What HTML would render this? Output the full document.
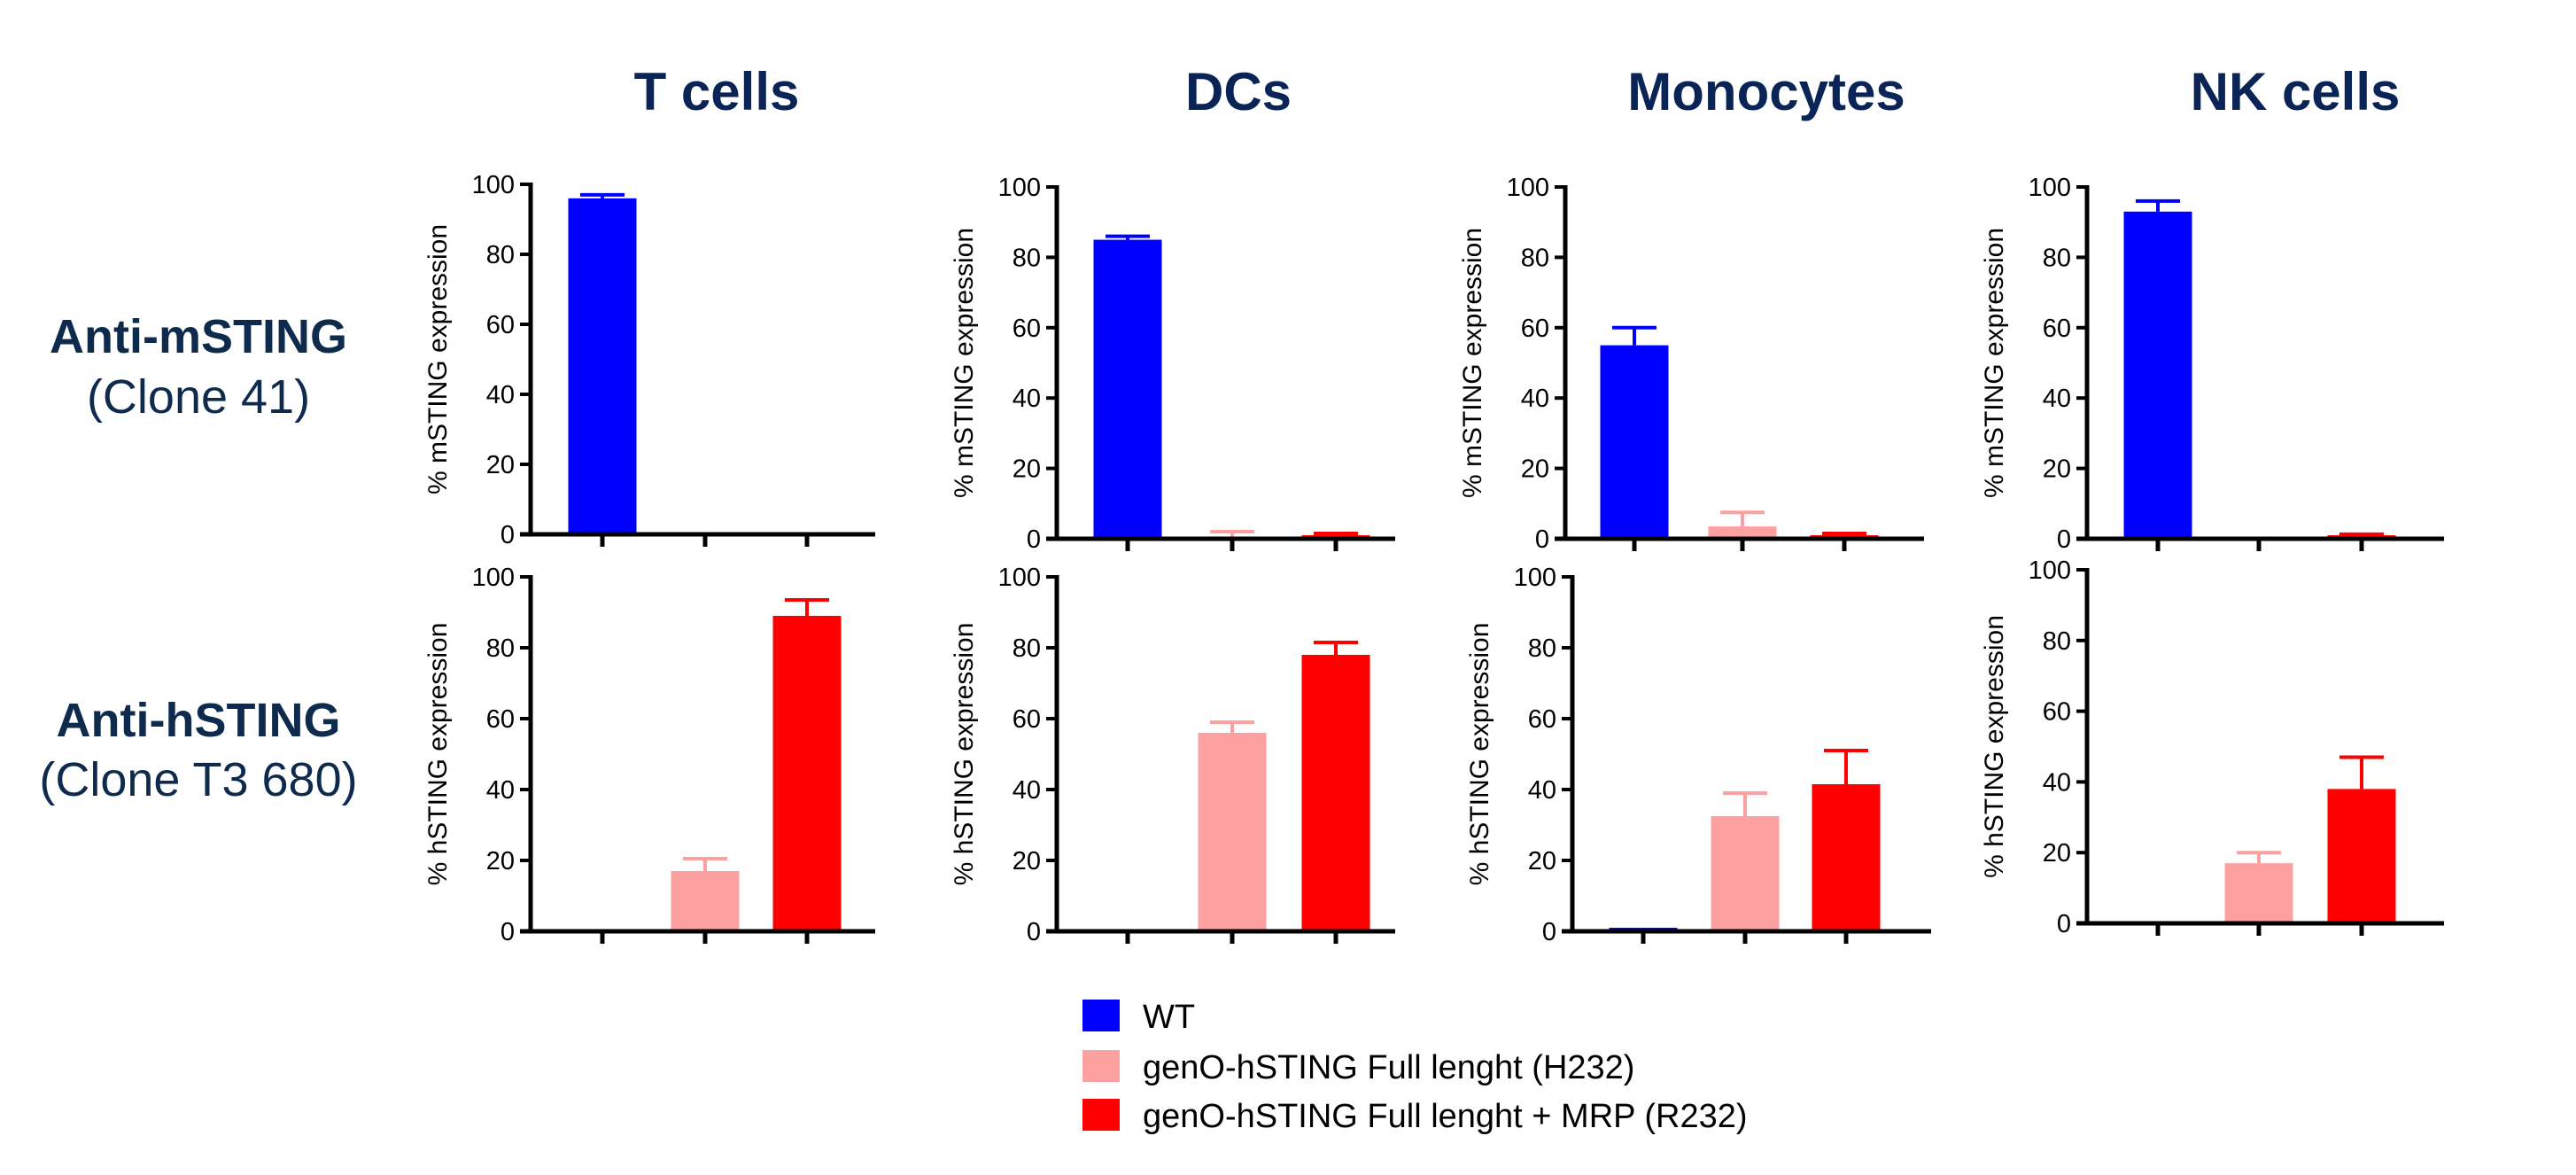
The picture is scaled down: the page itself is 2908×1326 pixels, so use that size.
<!DOCTYPE html>
<html><head><meta charset="utf-8"><style>
html,body{margin:0;padding:0;background:#fff;}
svg{display:block;font-family:"Liberation Sans",Arial,sans-serif;}
</style></head><body>
<svg id="fig" width="2908" height="1326" viewBox="0 0 2908 1326" xmlns="http://www.w3.org/2000/svg">
<g font-weight="bold" font-size="60" fill="#0b2456" text-anchor="middle">
<text x="809" y="124">T cells</text>
<text x="1398" y="124">DCs</text>
<text x="1994" y="124">Monocytes</text>
<text x="2591" y="124">NK cells</text>
</g>
<g fill="#0e2a4c" text-anchor="middle" font-size="54">
<text x="224" y="398" font-weight="bold">Anti-mSTING</text>
<text x="224" y="466">(Clone 41)</text>
<text x="224" y="831" font-weight="bold">Anti-hSTING</text>
<text x="224" y="898">(Clone T3 680)</text>
</g>
<g font-size="38" fill="#000">
<rect x="1222" y="1128" width="42" height="36" fill="#0000ff"/>
<text x="1290" y="1160">WT</text>
<rect x="1222" y="1185" width="42" height="36" fill="#fda0a0"/>
<text x="1290" y="1217">genO-hSTING Full lenght (H232)</text>
<rect x="1222" y="1240" width="42" height="36" fill="#ff0000"/>
<text x="1290" y="1272">genO-hSTING Full lenght + MRP (R232)</text>
</g>
<g id="panels"></g>
</svg>
<script>
// data
const cellTypes = ["T cells","DCs","Monocytes","NK cells"];
const groups = ["WT","H232","R232"];
const mstingMeans = [[96,0.3,0.3],[85,0.5,1],[55,3.5,1],[93,0.5,1]];
const mstingErr = [[1,0,0],[1,1.5,0.5],[5,4,0.5],[3,0,0.3]];
const hstingMeans = [[0,17,89],[0,56,78],[1,32.5,41.5],[0,17,38]];
const hstingErr = [[0,3.5,4.5],[0,3,3.5],[0,6.5,9.5],[0,3,9]];
const yTicks = [0,20,40,60,80,100];
const groupColors = ["#0000ff","#fda0a0","#ff0000"];

// layout
const NS="http://www.w3.org/2000/svg";
const root=document.getElementById('panels');
const layouts=[
 {top:{ax:599,x0:603,x1:208,xe:988,ticks:[680,796,911]},bot:{ax:599,x0:1051,x1:651,xe:988,ticks:[680,796,911]}},
 {top:{ax:1193,x0:608,x1:211,xe:1575,ticks:[1273,1391,1508]},bot:{ax:1193,x0:1051,x1:651,xe:1575,ticks:[1273,1391,1508]}},
 {top:{ax:1767,x0:608,x1:211,xe:2172,ticks:[1845,1967,2082]},bot:{ax:1775,x0:1051,x1:651,xe:2180,ticks:[1855,1970,2084]}},
 {top:{ax:2356,x0:608,x1:211,xe:2759,ticks:[2436,2550,2666]},bot:{ax:2356,x0:1042,x1:643,xe:2759,ticks:[2436,2550,2666]}}
];
function mk(tag,attrs,parent){const e=document.createElementNS(NS,tag);for(const k in attrs)e.setAttribute(k,attrs[k]);parent.appendChild(e);return e;}
function panel(L,means,errs,title,pname){
  const g=mk('g',{},root);
  
  
  const y=v=>L.x0-(v/100)*(L.x0-L.x1);
  const bw=77;
  means.forEach((m,i)=>{
    const cx=L.ticks[i];
    const top=y(m);
    const r=mk('rect',{x:cx-bw/2,y:Math.min(top,L.x0-2),width:bw,height:Math.max(L.x0-top,2),fill:groupColors[i]},g);
    
    
    if(errs[i]>0){
      const ye=y(m+errs[i]);
      const eg=mk('g',{stroke:groupColors[i],'stroke-width':4},g);
      
      
      mk('line',{x1:cx,x2:cx,y1:top,y2:ye},eg);
      mk('line',{x1:cx-25,x2:cx+25,y1:ye,y2:ye},eg);
    }
  });
  const ax=mk('g',{stroke:'#000','stroke-width':5,fill:'none'},g);
  
  
  mk('line',{x1:L.ax,x2:L.ax,y1:L.x1-2,y2:L.x0+2},ax);
  mk('line',{x1:L.ax-12,x2:L.xe,y1:L.x0,y2:L.x0},ax);
  L.ticks.forEach(t=>mk('line',{x1:t,x2:t,y1:L.x0,y2:L.x0+14},ax));
  yTicks.forEach(v=>{
    mk('line',{x1:L.ax-12,x2:L.ax,y1:y(v),y2:y(v),'stroke-width':4},ax);
    const t=mk('text',{x:L.ax-18,y:y(v)+10,'font-size':29,'text-anchor':'end',fill:'#000'},g);
    
    
    t.textContent=v;
  });
  const cy=(L.x0+L.x1)/2, tx=L.ax-95;
  const at=mk('text',{x:tx,y:cy,'font-size':30,'text-anchor':'middle',fill:'#000',transform:`rotate(-90 ${tx} ${cy})`},g);
  
  
  at.textContent=title;
}
cellTypes.forEach((c,i)=>{
  const key=c.toLowerCase().replace(/\s+/g,'-');
  panel(layouts[i].top,mstingMeans[i],mstingErr[i],'% mSTING expression','panel-msting-'+key);
  panel(layouts[i].bot,hstingMeans[i],hstingErr[i],'% hSTING expression','panel-hsting-'+key);
});
</script>
</body></html>
